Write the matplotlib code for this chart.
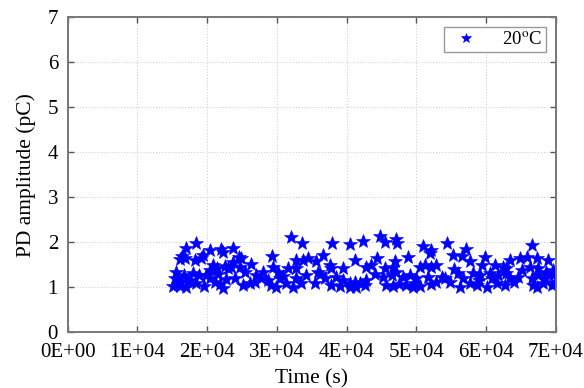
import matplotlib
matplotlib.use("Agg")
import matplotlib.pyplot as plt
from matplotlib.ticker import FuncFormatter

# PD amplitude readings at 20 degC
time_s = [
    18360, 16930, 20370, 22040, 22190, 16450, 16790, 16160, 19410, 19080,
    18220, 20850, 20370, 21330, 22520, 23000, 15590, 15350, 16070, 16640,
    17500, 18360, 18840, 17020, 16160, 15110, 20370, 21090, 21900, 22760,
    22280, 19890, 17980, 15800, 17300, 19600, 21600,
    31980, 23710, 24570, 24900, 29350, 23710, 23470, 26340, 24660, 25380,
    28010, 29440, 30160, 31600, 32790, 23950, 25140, 26100, 27050, 27770,
    28730, 29200, 30400, 31360, 32310, 32790, 32790, 29920, 26800, 30900,
    33650, 37950, 40440, 42350, 36620, 33750, 34470, 35560, 37570, 37810,
    39480, 41160, 42830, 35900, 34230, 36860, 38530, 35420, 37810, 39480,
    40440, 41160, 41880, 40440, 41400, 42590, 42830, 33510, 39000, 36200,
    44740, 45460, 47040, 47230, 50960, 52150, 51910, 48810, 44270, 46890,
    43550, 45460, 46660, 50440, 51160, 52150, 52830, 47130, 45220, 46420,
    48090, 49050, 50000, 51680, 45620, 46580, 47540, 48490, 49450, 50440,
    52100, 52830, 44000, 49700,
    54310, 57170, 55260, 56460, 57650, 59800, 59330, 61240, 62430, 53590,
    54070, 55980, 56700, 58130, 59090, 60520, 61700, 62900, 56220, 57650,
    58610, 60050, 61500, 62700, 54780, 55400, 58900, 60900,
    66590, 63390, 64820, 65780, 67210, 68880, 62900, 65060, 66260, 67460,
    68640, 69600, 63390, 64580, 66500, 67460, 68400, 69600, 66740, 67210,
    68160, 69360, 64000, 69800,
]
amplitude_pC = [
    1.99, 1.88, 1.82, 1.85, 1.77, 1.70, 1.64, 1.63, 1.71, 1.64,
    1.60, 1.49, 1.38, 1.42, 1.48, 1.42, 1.34, 1.21, 1.12, 1.26,
    1.16, 1.09, 1.27, 1.01, 1.03, 1.03, 1.20, 1.11, 1.06, 1.18,
    0.99, 1.27, 1.31, 1.08, 1.14, 1.02, 1.30,
    2.12, 1.88, 1.68, 1.64, 1.70, 1.55, 1.45, 1.51, 1.45, 1.34,
    1.34, 1.45, 1.34, 1.42, 1.60, 1.20, 1.05, 1.09, 1.27, 1.20,
    1.16, 1.05, 1.20, 1.09, 1.01, 1.20, 1.42, 1.01, 1.12, 1.25,
    1.99, 1.97, 1.96, 2.03, 1.71, 1.60, 1.64, 1.57, 1.49, 1.42,
    1.42, 1.60, 1.45, 1.34, 1.27, 1.20, 1.23, 1.09, 1.05, 1.16,
    1.09, 1.12, 1.09, 1.01, 1.01, 1.05, 1.16, 1.09, 1.03, 1.30,
    2.14, 2.01, 2.08, 1.97, 1.92, 1.82, 1.75, 1.68, 1.64, 1.58,
    1.49, 1.42, 1.45, 1.45, 1.49, 1.45, 1.49, 1.34, 1.23, 1.27,
    1.23, 1.27, 1.20, 1.23, 1.05, 1.03, 1.06, 1.05, 1.01, 1.03,
    1.06, 1.12, 1.30, 1.10,
    1.99, 1.85, 1.71, 1.70, 1.57, 1.68, 1.49, 1.49, 1.45, 1.23,
    1.20, 1.31, 1.21, 1.31, 1.27, 1.31, 1.27, 1.31, 1.01, 1.09,
    1.05, 1.01, 1.09, 1.05, 1.12, 1.40, 1.15, 1.20,
    1.94, 1.60, 1.64, 1.68, 1.64, 1.60, 1.42, 1.38, 1.45, 1.42,
    1.34, 1.38, 1.20, 1.23, 1.20, 1.27, 1.20, 1.27, 1.05, 1.01,
    1.09, 1.05, 1.12, 1.10,
]

x_ticks = [0, 1e4, 2e4, 3e4, 4e4, 5e4, 6e4, 7e4]
y_ticks = [0, 1, 2, 3, 4, 5, 6, 7]

plt.rcParams["font.family"] = ["Liberation Serif", "DejaVu Serif"]
plt.rcParams["mathtext.fontset"] = "stix"

fig = plt.figure(figsize=(5.84, 3.88), dpi=100)
ax = fig.add_axes([0.116, 0.144, 0.836, 0.812])

ax.plot(time_s, amplitude_pC, linestyle="none", marker="*", markersize=10,
        color="#0000ff", markeredgewidth=0.4, label=r"20$^{\mathrm{o}}$C")

ax.set_xlim(0, 7e4)
ax.set_ylim(0, 7)
ax.set_xticks(x_ticks)
ax.set_yticks(y_ticks)
ax.xaxis.set_major_formatter(FuncFormatter(lambda v, p: f"{v:.0E}"))

ax.grid(True, linestyle=(0, (1, 2)), color="#c8c8c8", linewidth=0.7)
ax.tick_params(direction="in", top=True, right=True, length=4, width=1,
               color="#555555", labelsize=15)
ax.tick_params(axis="x", pad=8)
ax.tick_params(axis="y", pad=7)
for sp in ax.spines.values():
    sp.set_color("#777777")
    sp.set_linewidth(1.4)

ax.set_xlabel("Time (s)", fontsize=15.5, labelpad=5)
ax.set_ylabel("PD amplitude (pC)", fontsize=15.5, labelpad=8)

leg = ax.legend(loc="upper right", fontsize=13.5, markerscale=0.75,
                fancybox=False, framealpha=1, edgecolor="#999999",
                handletextpad=0.9, borderpad=0.2, borderaxespad=0.55)
leg.get_frame().set_linewidth(1.0)

fig.savefig("out.png", dpi=100)
